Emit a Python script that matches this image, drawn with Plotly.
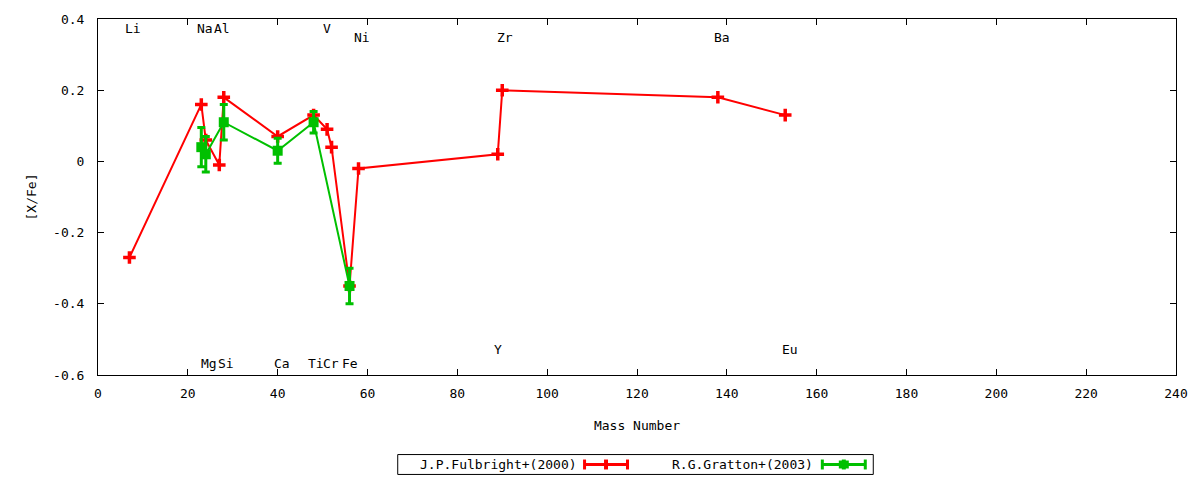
import plotly.graph_objects as go

# Fulbright (2000)
ful_mass = [7, 23, 24, 27, 28, 40, 48, 51, 52, 56, 58, 89, 90, 138, 153]
ful_xfe = [-0.27, 0.16, 0.06, -0.01, 0.18, 0.07, 0.13, 0.09, 0.04, -0.35, -0.02, 0.02, 0.20, 0.18, 0.13]

# Gratton (2003)
gra_mass = [23, 24, 28, 40, 48, 56]
gra_xfe = [0.04, 0.02, 0.11, 0.03, 0.11, -0.35]
gra_err = [0.055, 0.05, 0.05, 0.035, 0.03, 0.05]

# element labels
lab_text = ["Li", "Na", "Al", "V", "Ni", "Zr", "Ba", "Mg", "Si", "Ca", "Ti", "Cr", "Fe", "Y", "Eu"]
lab_x = [7.8, 23.8, 27.7, 50.9, 58.8, 90.7, 138.9, 24.7, 28.4, 41.0, 48.6, 51.8, 56.0, 89.0, 154.0]
lab_y = [0.372, 0.372, 0.372, 0.372, 0.347, 0.347, 0.347, -0.569, -0.569, -0.569, -0.569, -0.569, -0.569, -0.528, -0.528]

xticks = [0, 20, 40, 60, 80, 100, 120, 140, 160, 180, 200, 220, 240]
yticks = [-0.6, -0.4, -0.2, 0, 0.2, 0.4]
ytick_text = ["-0.6", "-0.4", "-0.2", "0", "0.2", "0.4"]

RED = "#ff0000"
GREEN = "#00c000"
FONT = "DejaVu Sans Mono"

fig = go.Figure()
fig.add_trace(go.Scatter(
    x=ful_mass, y=ful_xfe, mode="lines+markers", name="J.P.Fulbright+(2000)",
    line=dict(color=RED, width=2),
    marker=dict(symbol="cross-thin", size=9, line=dict(color=RED, width=3.5)),
    showlegend=False,
))
fig.add_trace(go.Scatter(
    x=gra_mass, y=gra_xfe, mode="lines+markers", name="R.G.Gratton+(2003)",
    line=dict(color=GREEN, width=2),
    marker=dict(symbol="square", size=10, color=GREEN),
    error_y=dict(type="data", array=gra_err, color=GREEN, thickness=3, width=4),
    showlegend=False,
))

for t, x, y in zip(lab_text, lab_x, lab_y):
    fig.add_annotation(x=x, y=y, text=t, showarrow=False, xanchor="center", yanchor="middle",
                       font=dict(family=FONT, size=13, color="black"))

W, H = 1200, 480
L, R, T, B = 98, 23, 17, 105
pw, ph = W - L - R, H - T - B


def px(p):
    return (p - L) / pw


def py(p):
    return (H - B - p) / ph


# custom gnuplot-style legend
shapes = [dict(type="rect", xref="paper", yref="paper", x0=px(398), x1=px(874), y0=py(475), y1=py(455),
               line=dict(color="black", width=1), fillcolor="rgba(0,0,0,0)")]
legend_items = [("J.P.Fulbright+(2000)", RED, 579, 585, 628), ("R.G.Gratton+(2003)", GREEN, 816, 823, 866)]
for name, col, tx, x0, x1 in legend_items:
    fig.add_annotation(xref="paper", yref="paper", x=px(tx), y=py(465), text=name, showarrow=False,
                       xanchor="right", yanchor="middle", font=dict(family=FONT, size=13, color="black"))
    shapes.append(dict(type="line", xref="paper", yref="paper", x0=px(x0), x1=px(x1), y0=py(465), y1=py(465),
                       line=dict(color=col, width=3)))
    for xe in (x0, x1):
        shapes.append(dict(type="line", xref="paper", yref="paper", x0=px(xe), x1=px(xe), y0=py(460), y1=py(470),
                           line=dict(color=col, width=3)))
    xm = (x0 + x1) / 2
    shapes.append(dict(type="line", xref="paper", yref="paper", x0=px(xm), x1=px(xm), y0=py(460), y1=py(470),
                       line=dict(color=col, width=4)))
    if col == GREEN:
        shapes.append(dict(type="rect", xref="paper", yref="paper", x0=px(xm - 5), x1=px(xm + 5), y0=py(469),
                           y1=py(461), fillcolor=col, line=dict(width=0)))

fig.update_layout(
    width=W, height=H, margin=dict(l=L, r=R, t=T, b=B),
    paper_bgcolor="white", plot_bgcolor="white",
    font=dict(family=FONT, size=13, color="black"),
    shapes=shapes,
    xaxis=dict(range=[0, 240], tickvals=xticks, ticks="inside", ticklen=6, tickcolor="black",
               showline=True, linecolor="black", linewidth=1, mirror="allticks", showgrid=False, zeroline=False,
               ticklabelstandoff=6,
               title=dict(text="Mass Number", font=dict(family=FONT, size=13), standoff=21)),
    yaxis=dict(range=[-0.6, 0.4], tickvals=yticks, ticktext=ytick_text, ticks="inside", ticklen=6,
               tickcolor="black", showline=True, linecolor="black", linewidth=1, mirror="allticks",
               showgrid=False, zeroline=False, ticklabelstandoff=10,
               title=dict(text="[X/Fe]", font=dict(family=FONT, size=13), standoff=13)),
)

fig.write_html("out.html", config={"displayModeBar": False},
               post_script="document.body.style.margin='0';document.body.style.overflow='hidden';")
